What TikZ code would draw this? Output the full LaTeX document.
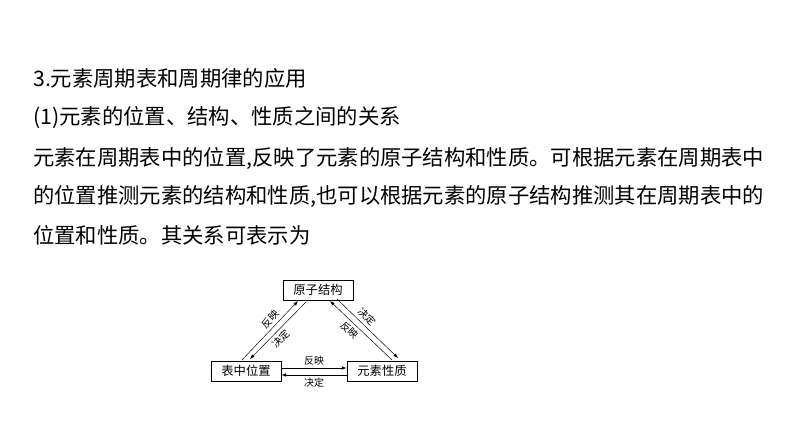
\documentclass[tikz,border=0pt]{standalone}
\usepackage{fontspec}
\setmainfont{Liberation Sans}
\newfontfamily\cjk{Noto Sans CJK SC}
\begin{document}
\begin{tikzpicture}[x=0.03cm,y=-0.03cm,
  txt/.style={anchor=west,inner sep=0pt,font=\cjk\fontsize{18.2}{20}\selectfont},
  box/.style={draw,thick,minimum width=2.1cm,minimum height=0.6cm,inner sep=1pt,font=\cjk\fontsize{10.5}{12}\selectfont},
  lbl/.style={font=\cjk\fontsize{8.5}{9}\selectfont,inner sep=2.5pt},
  arr/.style={-latex,thin}]
\useasboundingbox (0,0) rectangle (794,447);

% text
\node[txt] (l1) at (33,78) {3.元素周期表和周期律的应用};
\node[txt] (l2) at (33,118) {(1)元素的位置、结构、性质之间的关系};
\node[txt] (l3) at (33,158) {元素在周期表中的位置,反映了元素的原子结构和性质。可根据元素在周期表中};
\node[txt] (l4) at (33,196) {的位置推测元素的结构和性质,也可以根据元素的原子结构推测其在周期表中的};
\node[txt] (l5) at (33,235) {位置和性质。其关系可表示为};

% diagram
\node[box] (yz) at (318,290) {原子结构};
\node[box] (bz) at (246,371) {表中位置};
\node[box] (ys) at (382,371) {元素性质};

\coordinate (a1) at (242,360); \coordinate (a2) at (298,301);
\coordinate (b1) at (306,302); \coordinate (b2) at (250,359);
\draw[arr] (a1) -- (a2) node[lbl,pos=0.6,sloped,above] {反映};
\draw[arr] (b1) -- (b2) node[lbl,pos=0.55,sloped,below] {决定};

\coordinate (c1) at (392,360); \coordinate (c2) at (330,301);
\coordinate (d1) at (337,299); \coordinate (d2) at (398,358);
\draw[arr] (c1) -- (c2) node[lbl,pos=0.6,sloped,below] {反映};
\draw[arr] (d1) -- (d2) node[lbl,pos=0.4,sloped,above] {决定};

\draw[arr] (bz.east |- 0,368) -- (ys.west |- 0,368) node[lbl,midway,above] {反映};
\draw[arr] (ys.west |- 0,375) -- (bz.east |- 0,375) node[lbl,midway,below] {决定};
\end{tikzpicture}
\end{document}
